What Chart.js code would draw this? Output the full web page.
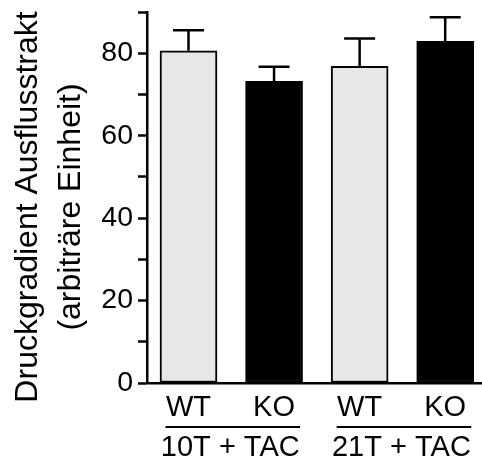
<!DOCTYPE html>
<html>
<head>
<meta charset="utf-8">
<script src="https://cdn.jsdelivr.net/npm/chart.js@4"></script>
<style>
  html, body { margin: 0; padding: 0; background: #fff; }
  #wrap { width: 482px; height: 463px; }
</style>
</head>
<body>
<div id="wrap"><canvas id="Plot" width="482" height="463"></canvas></div>
<script>
// values
var genotypes = ["WT", "KO", "WT", "KO"];
var groups = ["10T + TAC", "21T + TAC"];
var means = [80.6, 73.2, 76.8, 82.9];
var errs = [5.0, 3.5, 6.8, 5.8];
var fills = ["#e6e7e9", "#000000", "#e6e7e9", "#000000"];
var yTitle = ["Druckgradient Ausflusstrakt", "(arbiträre Einheit)"];

var FONT = "'Liberation Sans', Arial, Helvetica, sans-serif";
var ctx = document.getElementById("Plot").getContext('2d');

var pts = means.map(function (v, i) { return { x: i, y: v }; });

// upward-only error bars with a cap
var errPlugin = {
  id: 'errbars',
  afterDatasetsDraw: function (chart) {
    var c = chart.ctx;
    var ys = chart.scales.y;
    var meta = chart.getDatasetMeta(0);
    c.save();
    c.strokeStyle = '#000';
    c.lineWidth = 2.5;
    meta.data.forEach(function (bar, i) {
      var top = ys.getPixelForValue(means[i] + errs[i]);
      var base = ys.getPixelForValue(means[i]);
      c.beginPath();
      c.moveTo(bar.x, base);
      c.lineTo(bar.x, top);
      c.moveTo(bar.x - 15.5, top);
      c.lineTo(bar.x + 15.5, top);
      c.stroke();
    });
    c.restore();
  }
};

// group labels under the genotype labels, with a line above each,
// plus the two-line y title (it hangs a bit below the plot area)
var groupPlugin = {
  id: 'groups',
  afterDraw: function (chart) {
    var c = chart.ctx;
    var xs = chart.scales.x;
    c.save();
    c.fillStyle = '#000';
    c.strokeStyle = '#000';
    c.lineWidth = 2;
    c.font = '29px ' + FONT;
    c.textAlign = 'center';
    c.textBaseline = 'middle';
    groups.forEach(function (g, k) {
      var x0 = xs.getPixelForValue(2 * k);
      var x1 = xs.getPixelForValue(2 * k + 1);
      c.beginPath();
      c.moveTo(x0 - 23, 427);
      c.lineTo(x1 + 26, 427);
      c.stroke();
      c.fillText(g, (x0 + x1) / 2 - 1, 448);
    });

    c.font = '32px ' + FONT;
    c.translate(0, 207);
    c.rotate(-Math.PI / 2);
    c.fillText(yTitle[0], 0, 28);
    c.fillText(yTitle[1], 0, 71);
    c.restore();
  }
};

var myChart = new Chart(ctx, {
  type: 'bar',
  data: {
    datasets: [{
      data: pts,
      backgroundColor: fills,
      borderColor: '#000',
      borderWidth: 2,
      borderSkipped: false,
      barThickness: 57
    }]
  },
  plugins: [errPlugin, groupPlugin],
  options: {
    responsive: false,
    animation: false,
    layout: { padding: { top: 12, right: 0, left: 0, bottom: 0 } },
    plugins: {
      legend: { display: false },
      tooltip: { enabled: false }
    },
    scales: {
      x: {
        type: 'linear',
        offset: false,
        min: -0.485,
        max: 3.43,
        afterBuildTicks: function (s) {
          s.ticks = genotypes.map(function (g, i) { return { value: i }; });
        },
        afterFit: function (s) { s.height = 80; s.paddingLeft = 0; s.paddingRight = 0; },
        ticks: {
          autoSkip: false,
          maxRotation: 0,
          color: '#000',
          font: { family: FONT, size: 29 },
          padding: 8,
          callback: function (v) { return genotypes[v]; }
        },
        grid: { display: false, drawTicks: false },
        border: { display: true, color: '#000', width: 2.5 }
      },
      y: {
        min: 0,
        max: 90,
        afterFit: function (s) { s.width = 147; s.paddingTop = 0; s.paddingBottom = 0; },
        ticks: {
          stepSize: 10,
          color: '#000',
          font: { family: FONT, size: 28.5 },
          padding: 5,
          callback: function (v) { return (v % 20 === 0) ? v : ''; }
        },
        grid: {
          drawOnChartArea: false,
          drawTicks: true,
          tickLength: 9,
          tickColor: '#000',
          tickWidth: 2.5
        },
        border: { display: true, color: '#000', width: 2.5 }
      }
    }
  }
});
</script>
</body>
</html>
